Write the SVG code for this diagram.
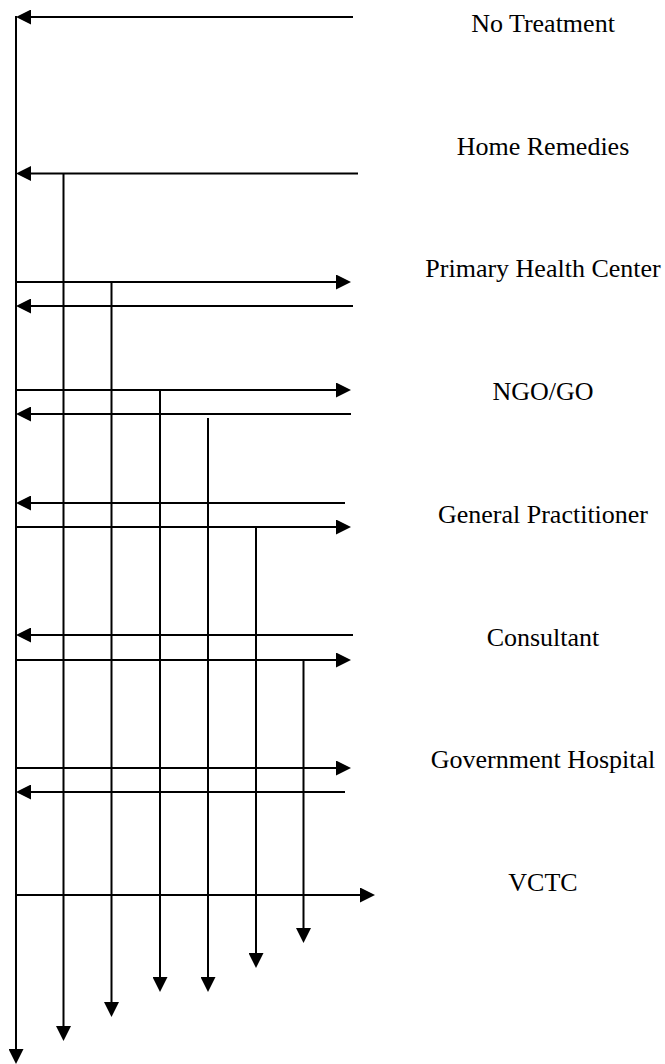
<svg xmlns="http://www.w3.org/2000/svg" width="665" height="1064" viewBox="0 0 665 1064">
<style>
.c{stroke:#000;stroke-width:2;fill:none;marker-end:url(#ah)}
.b{stroke:#000;stroke-width:2;fill:none}
.t{font-family:"Liberation Serif","Times New Roman",serif;font-size:26px;fill:#000;text-anchor:middle}
</style>
<defs>
<marker id="ah" markerUnits="userSpaceOnUse" markerWidth="15" markerHeight="15" viewBox="0 0 15 15" refX="12" refY="7.5" orient="auto">
<path d="M0,0 L15,7.5 L0,15 z" fill="#000"/>
</marker>
</defs>
<rect width="665" height="1064" fill="#fff"/>
<g id="connectors">
<line class="c" x1="16" y1="16" x2="16" y2="1061"/>
<line class="c" x1="63.5" y1="173.5" x2="63.5" y2="1038"/>
<line class="c" x1="111.5" y1="282" x2="111.5" y2="1014"/>
<line class="c" x1="160" y1="390" x2="160" y2="989"/>
<line class="c" x1="208" y1="418" x2="208" y2="989"/>
<line class="c" x1="256" y1="527" x2="256" y2="965"/>
<line class="c" x1="303.5" y1="660" x2="303.5" y2="940"/>
<line class="c" x1="353" y1="17" x2="19" y2="17"/>
<line class="c" x1="358" y1="173.5" x2="19" y2="173.5"/>
<line class="c" x1="16" y1="282" x2="348" y2="282"/>
<line class="c" x1="353" y1="306" x2="19" y2="306"/>
<line class="c" x1="16" y1="390" x2="348" y2="390"/>
<line class="c" x1="351" y1="414" x2="19" y2="414"/>
<line class="c" x1="345" y1="503" x2="19" y2="503"/>
<line class="c" x1="16" y1="527" x2="348" y2="527"/>
<line class="c" x1="353" y1="635" x2="19" y2="635"/>
<line class="c" x1="16" y1="660" x2="348" y2="660"/>
<line class="c" x1="16" y1="768" x2="348" y2="768"/>
<line class="c" x1="345" y1="792" x2="19" y2="792"/>
<line class="c" x1="16" y1="895" x2="372" y2="895"/>
</g>
<g id="no-treatment"><text class="t" x="543" y="32">No Treatment</text></g>
<g id="home-remedies"><text class="t" x="543" y="155">Home Remedies</text></g>
<g id="primary-health-center"><text class="t" x="543" y="277">Primary Health Center</text></g>
<g id="ngo-go"><text class="t" x="543" y="400">NGO/GO</text></g>
<g id="general-practitioner"><text class="t" x="543" y="523">General Practitioner</text></g>
<g id="consultant"><text class="t" x="543" y="646">Consultant</text></g>
<g id="government-hospital"><text class="t" x="543" y="768">Government Hospital</text></g>
<g id="vctc"><text class="t" x="543" y="891">VCTC</text></g>
</svg>
